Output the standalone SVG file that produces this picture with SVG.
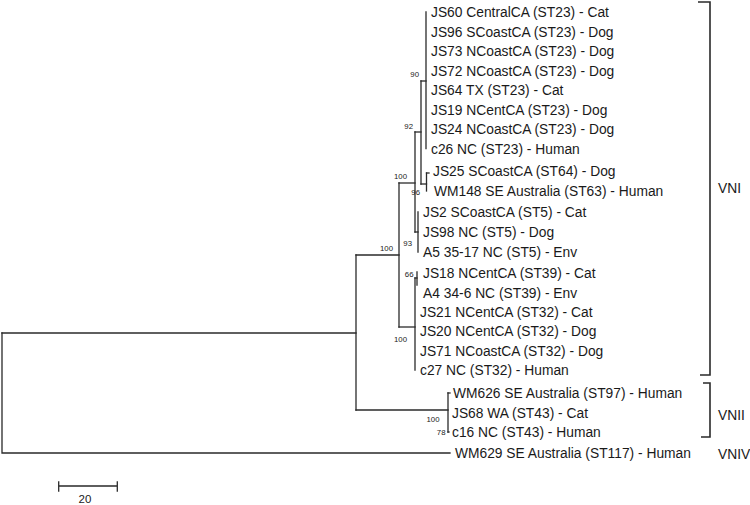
<svg xmlns="http://www.w3.org/2000/svg" width="750" height="505" viewBox="0 0 750 505">
<style>
.leaf{font-family:"Liberation Sans",Arial,sans-serif;font-size:13.8px;fill:#1a1a1a}
.bs{font-family:"Liberation Sans",Arial,sans-serif;font-size:7.8px;fill:#1a1a1a;text-anchor:end}
.clade{font-family:"Liberation Sans",Arial,sans-serif;font-size:13.8px;fill:#1a1a1a}
.br{fill:none;stroke:#2a2a2a;stroke-width:1.3;stroke-linecap:square}
.bk{fill:none;stroke:#2a2a2a;stroke-width:1.6}
</style>
<rect width="750" height="505" fill="#ffffff"/>
<g id="connectors">
<path class="br" d="M2,333 V453 H450"/>
<path class="br" d="M2,333 H356"/>
<path class="br" d="M356,255 V410"/>
<path class="br" d="M356,255 H399"/>
<path class="br" d="M356,410 H448"/>
<path class="br" d="M448,393 V432"/>
<path class="br" d="M448,393 H450"/>
<path class="br" d="M448,432 H449"/>
<path class="br" d="M399,183 V327"/>
<path class="br" d="M399,183 H415"/>
<path class="br" d="M399,327 H415"/>
<path class="br" d="M415,132 V232"/>
<path class="br" d="M415,132 H421"/>
<path class="br" d="M415,232 H418"/>
<path class="br" d="M421,81 V184"/>
<path class="br" d="M421,81 H426"/>
<path class="br" d="M421,184 H426.5"/>
<path class="br" d="M426,12 V148.5"/>
<path class="br" d="M426.5,173 V191"/>
<path class="br" d="M426.5,173 H429"/>
<path class="br" d="M418,212 V252"/>
<path class="br" d="M415,278 V370"/>
<path class="br" d="M415,278 H417"/>
<path class="br" d="M417,272 V285"/>
</g>
<g id="bootstrap">
<text class="bs" x="419" y="77">90</text>
<text class="bs" x="413" y="128.5">92</text>
<text class="bs" x="407" y="178.5">100</text>
<text class="bs" x="420" y="195">96</text>
<text class="bs" x="412" y="246">93</text>
<text class="bs" x="393" y="251">100</text>
<text class="bs" x="413.5" y="277">66</text>
<text class="bs" x="407" y="342">100</text>
<text class="bs" x="439.5" y="422">100</text>
<text class="bs" x="445.5" y="435">78</text>
</g>
<g id="leaf-JS60"><text class="leaf" x="431" y="17">JS60 CentralCA (ST23) - Cat</text></g>
<g id="leaf-JS96"><text class="leaf" x="431" y="36.5">JS96 SCoastCA (ST23) - Dog</text></g>
<g id="leaf-JS73"><text class="leaf" x="431" y="56">JS73 NCoastCA (ST23) - Dog</text></g>
<g id="leaf-JS72"><text class="leaf" x="431" y="75.5">JS72 NCoastCA (ST23) - Dog</text></g>
<g id="leaf-JS64"><text class="leaf" x="431" y="95">JS64 TX (ST23) - Cat</text></g>
<g id="leaf-JS19"><text class="leaf" x="431" y="114.5">JS19 NCentCA (ST23) - Dog</text></g>
<g id="leaf-JS24"><text class="leaf" x="431" y="134">JS24 NCoastCA (ST23) - Dog</text></g>
<g id="leaf-c26"><text class="leaf" x="431" y="153.5">c26 NC (ST23) - Human</text></g>
<g id="leaf-JS25"><text class="leaf" x="433" y="176">JS25 SCoastCA (ST64) - Dog</text></g>
<g id="leaf-WM148"><text class="leaf" x="434" y="196">WM148 SE Australia (ST63) - Human</text></g>
<g id="leaf-JS2"><text class="leaf" x="423" y="217">JS2 SCoastCA (ST5) - Cat</text></g>
<g id="leaf-JS98"><text class="leaf" x="423" y="237">JS98 NC (ST5) - Dog</text></g>
<g id="leaf-A5"><text class="leaf" x="423" y="257">A5 35-17 NC (ST5) - Env</text></g>
<g id="leaf-JS18"><text class="leaf" x="423" y="278">JS18 NCentCA (ST39) - Cat</text></g>
<g id="leaf-A4"><text class="leaf" x="423" y="297.5">A4 34-6 NC (ST39) - Env</text></g>
<g id="leaf-JS21"><text class="leaf" x="420" y="317">JS21 NCentCA (ST32) - Cat</text></g>
<g id="leaf-JS20"><text class="leaf" x="420" y="336">JS20 NCentCA (ST32) - Dog</text></g>
<g id="leaf-JS71"><text class="leaf" x="420" y="355.5">JS71 NCoastCA (ST32) - Dog</text></g>
<g id="leaf-c27"><text class="leaf" x="420" y="375">c27 NC (ST32) - Human</text></g>
<g id="leaf-WM626"><text class="leaf" x="453" y="398">WM626 SE Australia (ST97) - Human</text></g>
<g id="leaf-JS68"><text class="leaf" x="452" y="417.5">JS68 WA (ST43) - Cat</text></g>
<g id="leaf-c16"><text class="leaf" x="452" y="437">c16 NC (ST43) - Human</text></g>
<g id="leaf-WM629"><text class="leaf" x="455" y="458">WM629 SE Australia (ST117) - Human</text></g>
<g id="clade-VNI">
<path class="bk" d="M698,2 H710 V375 H700"/>
<text class="clade" x="718" y="193">VNI</text>
</g>
<g id="clade-VNII">
<path class="bk" d="M703,383 H710 V437 H701"/>
<text class="clade" x="718" y="420">VNII</text>
</g>
<g id="clade-VNIV">
<text class="clade" x="718" y="459">VNIV</text>
</g>
<g id="scale-bar">
<path class="br" d="M58.7,486 H117.3 M58.7,482 V491 M117.3,482 V491"/>
<text x="85" y="503" text-anchor="middle" style="font-family:'Liberation Sans',Arial,sans-serif;font-size:11.5px;fill:#1a1a1a">20</text>
</g>
</svg>
